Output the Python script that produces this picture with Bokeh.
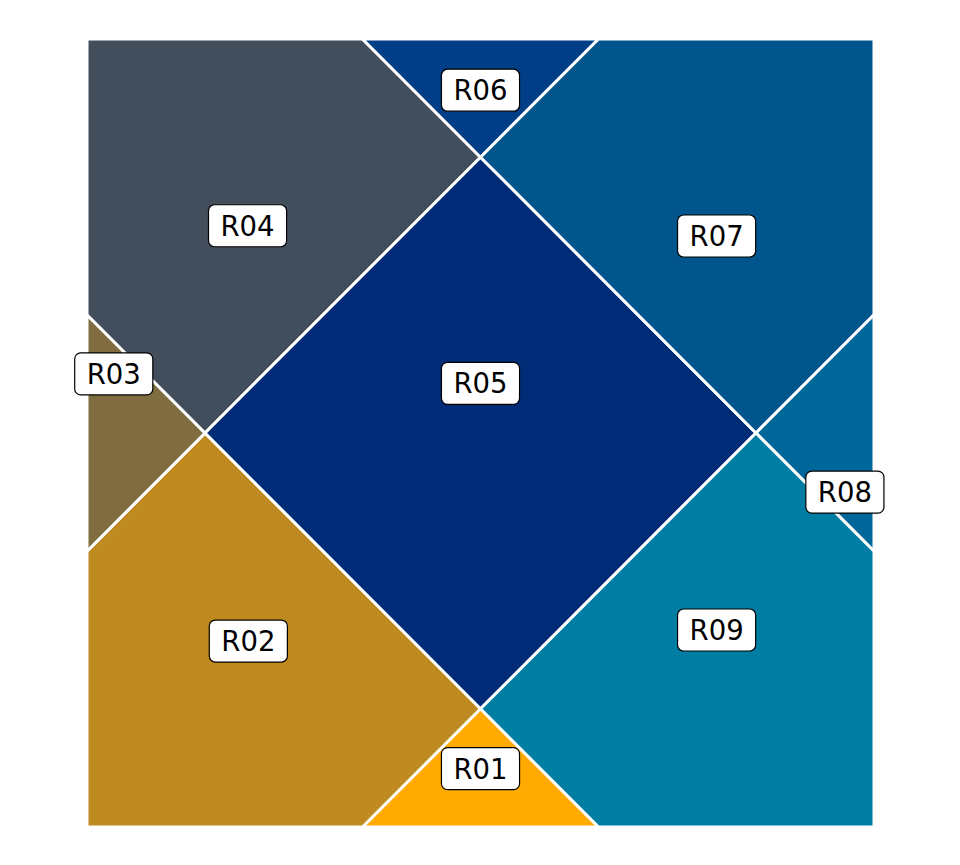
from bokeh.plotting import figure
from bokeh.models import Range1d, ColumnDataSource
from bokeh.core.properties import value
from bokeh.embed import file_html
from bokeh.resources import INLINE

regions = ["R01", "R02", "R03", "R04", "R05", "R06", "R07", "R08", "R09"]
xs = [
    [3.5, 6.5, 5.0],
    [0.0, 3.5, 5.0, 1.5, 0.0],
    [0.0, 1.5, 0.0],
    [0.0, 1.5, 5.0, 3.5, 0.0],
    [5.0, 8.5, 5.0, 1.5],
    [3.5, 6.5, 5.0],
    [6.5, 10.0, 10.0, 8.5, 5.0],
    [10.0, 10.0, 8.5],
    [10.0, 10.0, 6.5, 5.0, 8.5],
]
ys = [
    [0.0, 0.0, 1.5],
    [0.0, 0.0, 1.5, 5.0, 3.5],
    [3.5, 5.0, 6.5],
    [6.5, 5.0, 8.5, 10.0, 10.0],
    [8.5, 5.0, 1.5, 5.0],
    [10.0, 10.0, 8.5],
    [10.0, 10.0, 6.5, 5.0, 8.5],
    [6.5, 3.5, 5.0],
    [3.5, 0.0, 0.0, 1.5, 5.0],
]
colors = ["#FFAA00", "#BF8B20", "#7F6D3F", "#434E5D", "#002C77",
          "#003F87", "#00558C", "#00679A", "#007DA2"]
label_x = [5.0, 2.05, 0.34, 2.04, 5.0, 5.0, 8.0, 9.63, 8.0]
label_y = [0.74, 2.36, 5.75, 7.63, 5.63, 9.35, 7.5, 4.25, 2.5]

W, H = 944, 849
x0, x1 = 86.5, 873.5   # pixel positions of data 0 and 10 (x)
yt, yb = 38.5, 826.5   # pixel positions of data 10 and 0 (y)
sx, sy = (x1 - x0) / 10, (yb - yt) / 10
p = figure(width=W, height=H, output_backend="svg", toolbar_location=None,
           x_axis_type=None, y_axis_type=None,
           x_range=Range1d(-x0 / sx, (W - x0) / sx),
           y_range=Range1d(-(H - yb) / sy, 10 + yt / sy),
           min_border=0)
p.grid.visible = False
p.outline_line_color = None
p.background_fill_color = "white"

src = ColumnDataSource(dict(xs=xs, ys=ys, color=colors, name=regions))
p.patches("xs", "ys", source=src, fill_color="color", line_color="white",
          line_width=3, fill_alpha=1)

lsrc = ColumnDataSource(dict(x=label_x, y=label_y, text=regions))
p.text("x", "y", text="text", source=lsrc, text_align="center",
       text_baseline="middle", text_font=value("DejaVu Sans"),
       text_font_size="27.5px", text_color="black",
       background_fill_color="white", border_line_color="black",
       border_line_width=1.2, padding=[12, 5], border_radius=6)

open("out.html", "w").write(file_html(p, INLINE))
